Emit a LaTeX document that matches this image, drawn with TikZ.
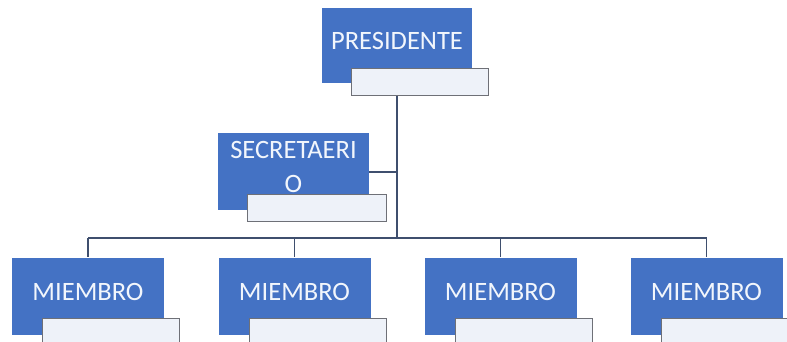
\documentclass[tikz,border=0pt]{standalone}
\usepackage{fontspec}
\setmainfont{Carlito}
\begin{document}
\begin{tikzpicture}[x=1pt,y=-1pt,
  bluebox/.style={draw=none,fill=boxblue,minimum width=152pt,minimum height=77pt,inner sep=0pt},
  subbox/.style={draw=subgray,line width=1.2pt,fill=subfill,minimum width=137pt,minimum height=27pt,inner sep=0pt,anchor=north west},
  lbl/.style={text=textwhite,font=\fontsize{26.5}{34}\selectfont,align=center,inner sep=0pt},
  conn/.style={draw=connblue,line width=1.4pt}]
\definecolor{boxblue}{HTML}{4472C4}
\definecolor{subgray}{HTML}{6E7077}
\definecolor{subfill}{HTML}{EEF2F9}
\definecolor{connblue}{HTML}{3F4F6E}
\definecolor{textwhite}{HTML}{F2F6FC}
\useasboundingbox (0,0) rectangle (787,341);
\fill[white] (0,0) rectangle (787,341);
% president
\node[bluebox,minimum width=150pt,minimum height=75pt] (pb) at (397,45.5) {};
\node[lbl] (pt) at (397,41) {PRESIDENTE};
\node[subbox] (pw) at (351,68) {};
% secretary
\node[bluebox,minimum width=151pt,minimum height=77pt] (sb) at (293.5,171.5) {};
\node[lbl] (st) at (293.5,167) {SECRETAERI\\O};
\node[subbox,minimum width=139pt] (sw) at (247,194) {};
% members
\foreach \i/\x in {1/12,2/218.5,3/424.5,4/630.5}{
  \node[bluebox] (m\i) at (\x+76,296) {};
  \node[lbl] (mt\i) at (\x+76,292) {MIEMBRO};
  \node[subbox] (mw\i) at (\x+30,318) {};
}
% connectors
\coordinate (trunk) at (397,238);
\coordinate (sj) at (397,172);
\draw[conn] (pw.south -| pb.center) -- (trunk);
\draw[conn] (sb.east |- sj) -- (sj);
\draw[conn] (m1.north |- trunk) -- (m4.north |- trunk);
\foreach \i in {1,...,4}{
  \draw[conn] (m\i.north |- trunk) -- (m\i.north);
}
\end{tikzpicture}
\end{document}
